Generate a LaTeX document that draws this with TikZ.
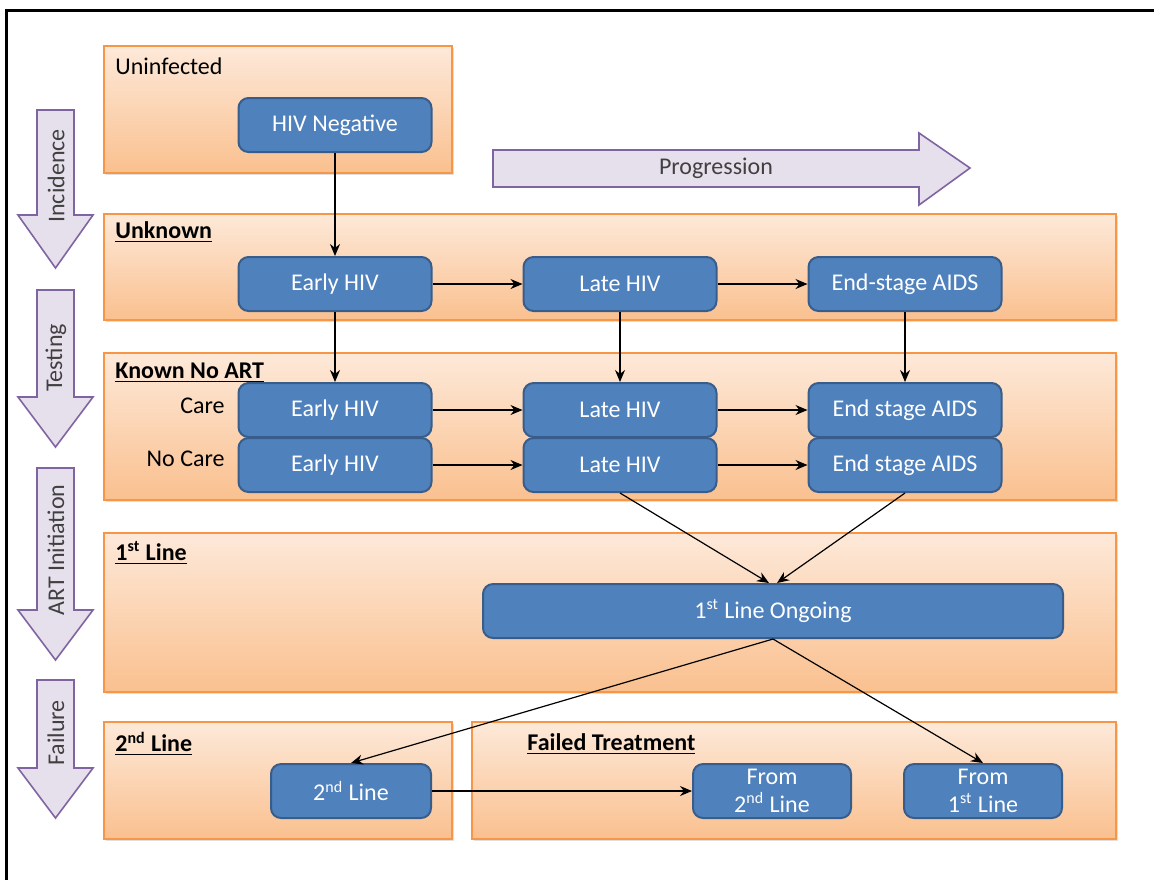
\documentclass[tikz,border=0pt]{standalone}
\usepackage{fontspec}
\setmainfont{Carlito}
\usetikzlibrary{arrows.meta,shadows}

\begin{document}
\begin{tikzpicture}[x=0.5pt, y=-0.5pt,
  panel/.style={draw=orbord, line width=0.6pt, top color=ortop, bottom color=orbot,
    drop shadow={opacity=0.25, shadow xshift=1pt, shadow yshift=-1.2pt}},
  state/.style={draw=bluebord, fill=bluefill, line width=1pt, rounded corners=5pt,
    text=white, minimum width=96.5pt, minimum height=27pt, align=center,
    inner sep=1pt, font=\fontsize{12}{14}\selectfont},
  title/.style={anchor=west, inner sep=0pt, font=\fontsize{12}{14}\selectfont},
  flow/.style={draw=lavbord, fill=lavfill, line width=0.8pt},
  link/.style={-{Stealth[length=6pt,width=5pt]}, line width=0.6pt}]
  \useasboundingbox (0,0) rectangle (1154,880);

  \definecolor{ortop}{RGB}{253,233,217}
  \definecolor{orbot}{RGB}{250,192,143}
  \definecolor{orbord}{RGB}{247,150,70}
  \definecolor{bluefill}{RGB}{79,129,189}
  \definecolor{bluebord}{RGB}{56,93,138}
  \definecolor{lavfill}{RGB}{229,224,236}
  \definecolor{lavbord}{RGB}{128,100,162}
  \definecolor{flowtext}{RGB}{64,64,64}

  \draw[line width=1.5pt] (6,880) -- (6,10) -- (1154,10);

  % panels
  \path[panel] (104,46) rectangle (452,173);
  \path[panel] (104,214) rectangle (1116,320);
  \path[panel] (104,353) rectangle (1116,500);
  \path[panel] (104,533) rectangle (1116,692);
  \path[panel] (104,722) rectangle (452,839);
  \path[panel] (472,722) rectangle (1116,839);

  \node[title] (tUninf) at (115,66) {Uninfected};
  \node[title] (tUnknown) at (115,232) {\underline{\textbf{Unknown}}};
  \node[title] (tKnown) at (115,373) {\underline{\textbf{Known No ART}}};
  \node[title] (tFirst) at (115,553) {\underline{\textbf{1\textsuperscript{st} Line}}};
  \node[title] (tSecond) at (115,744) {\underline{\textbf{2\textsuperscript{nd} Line}}};
  \node[title] (tFailed) at (527,744) {\underline{\textbf{Failed Treatment}}};
  \node[title, anchor=east] (tCare) at (225,406) {Care};
  \node[title, anchor=east] (tNoCare) at (225,459) {No Care};

  % phase arrows on the left
  \foreach \top/\neck/\tip/\lbl/\ly [count=\i] in {
    110/215/268/Incidence/176,
    290/397/447/Testing/358,
    468/610/660/ART Initiation/550,
    680/768/818/Failure/733}{
      \path[flow] (37,\top) -- (74,\top) -- (74,\neck) -- (93,\neck) -- (55.5,\tip)
        -- (18,\neck) -- (37,\neck) -- cycle;
      \node[rotate=90, text=flowtext, font=\fontsize{12}{14}\selectfont] (phase\i) at (56,\ly) {\lbl};
    }

  \path[flow] (493,150) -- (919,150) -- (919,133) -- (970,168) -- (919,205)
    -- (919,187) -- (493,187) -- cycle;
  \node[text=flowtext, font=\fontsize{12}{14}\selectfont] (prog) at (716,168) {Progression};

  % states
  \node[state] (neg) at (335,125) {HIV Negative};

  \node[state] (uEarly) at (335,284) {Early HIV};
  \node[state] (uLate) at (620,284) {Late HIV};
  \node[state] (uEnd) at (905,284) {End-stage AIDS};

  \node[state] (cEarly) at (335,410) {Early HIV};
  \node[state] (cLate) at (620,410) {Late HIV};
  \node[state] (cEnd) at (905,410) {End stage AIDS};

  \node[state] (nEarly) at (335,465) {Early HIV};
  \node[state] (nLate) at (620,465) {Late HIV};
  \node[state] (nEnd) at (905,465) {End stage AIDS};

  \node[state, minimum width=290pt] (ongoing) at (773,611) {1\textsuperscript{st} Line Ongoing};

  \node[state, minimum width=80pt] (second) at (351,791) {2\textsuperscript{nd} Line};
  \node[state, minimum width=79pt] (from2) at (772,791) {From\\2\textsuperscript{nd} Line};
  \node[state, minimum width=79pt] (from1) at (983,791) {From\\1\textsuperscript{st} Line};

  % links
  \draw[link] (neg) -- (uEarly);
  \draw[link] (uEarly) -- (uLate);
  \draw[link] (uLate) -- (uEnd);
  \draw[link] (uEarly) -- (cEarly);
  \draw[link] (uLate) -- (cLate);
  \draw[link] (uEnd) -- (cEnd);
  \draw[link] (cEarly) -- (cLate);
  \draw[link] (cLate) -- (cEnd);
  \draw[link] (nEarly) -- (nLate);
  \draw[link] (nLate) -- (nEnd);
  \draw[link] (nLate.south) -- ([xshift=-2pt]ongoing.north);
  \draw[link] (nEnd.south) -- ([xshift=2pt]ongoing.north);
  \draw[link] (ongoing.south) -- (second.north);
  \draw[link] (ongoing.south) -- (from1.north);
  \draw[link] (second) -- (from2);
\end{tikzpicture}
\end{document}
